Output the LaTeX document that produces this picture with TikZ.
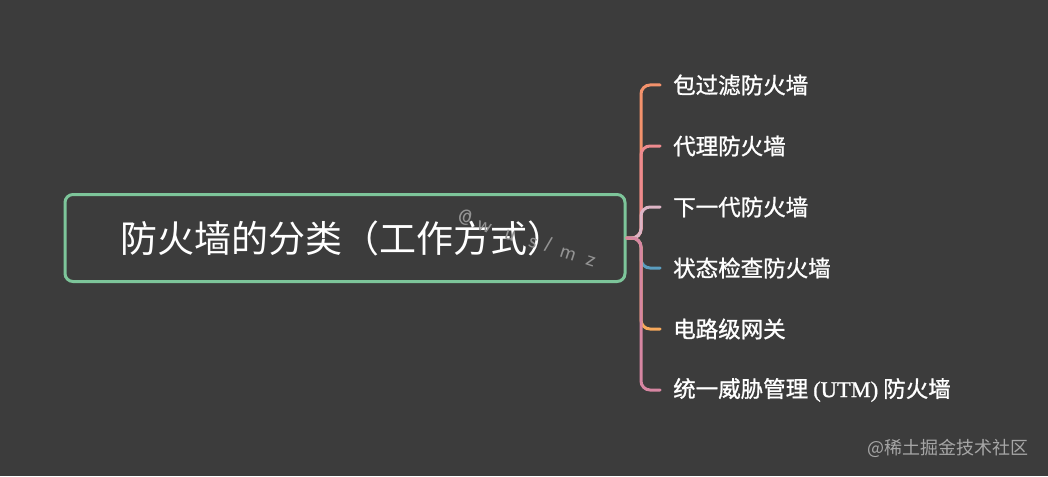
\documentclass[tikz,border=0pt]{standalone}
\usepackage{fontspec}
\newfontfamily\cjk{Noto Sans CJK SC}
\newfontfamily\cjkmid[FakeBold=1.1]{Noto Sans CJK SC}
\newfontfamily\utmfont[FakeBold=1.1]{Liberation Serif}
\definecolor{MapBg}{HTML}{3C3C3C}
\definecolor{MapGreen}{HTML}{7DC59A}
\definecolor{BrOne}{HTML}{F3926C}
\definecolor{BrTwo}{HTML}{EE8A8E}
\definecolor{BrThree}{HTML}{DDB5C6}
\definecolor{BrFour}{HTML}{5B9EC0}
\definecolor{BrFive}{HTML}{F7A95C}
\definecolor{BrSix}{HTML}{D786A2}
\usetikzlibrary{positioning}
\tikzset{
  leaf/.style={anchor=west,inner xsep=13pt,inner ysep=2pt,text=white,font=\cjkmid\fontsize{22.5}{26}\selectfont},
  branch/.style={line width=3pt,rounded corners=9pt,line cap=round}
}

\begin{document}
\begin{tikzpicture}[x=1pt,y=-1pt]
  \fill[MapBg] (0,0) rectangle (1048,476);
  \useasboundingbox (0,0) rectangle (1048,476);
  \node[draw=MapGreen,line width=3pt,rounded corners=8pt,minimum width=560pt,minimum height=87pt,
        text=white,font=\cjk\fontsize{37}{42}\selectfont] (root) at (345,238) {\hspace*{-6pt}防火墙的分类（工作方式）};
  \node[text=gray!85,rotate=-18,font=\sffamily\fontsize{22}{26}\selectfont] (mark) at (527,238) {@\,\,w\,\,\,\,u\,\,\,\,s\,\,\textit{l}\,\,\,m\,\,\,z};
  \coordinate (hub) at (641,238);
  \node[leaf] (pkt) at (660,85) {包过滤防火墙};
  \node[leaf] (proxy) at (660,146) {代理防火墙};
  \node[leaf] (ngfw) at (660,207) {下一代防火墙};
  \node[leaf] (state) at (660,268) {状态检查防火墙};
  \node[leaf] (circ) at (660,329) {电路级网关};
  \node[leaf] (utm) at (660,390) {统一威胁管理 {\utmfont(UTM)} 防火墙};
  % branches, longest first
  \draw[branch,BrOne] (root.east) -- (hub) |- (pkt.west);
  \draw[branch,BrTwo] (root.east) -- (hub) |- (proxy.west);
  \draw[branch,BrThree] (root.east) -- (hub) |- (ngfw.west);
  \draw[branch,BrFour] (root.east) -- (hub) |- (state.west);
  \draw[branch,BrFive] (root.east) -- (hub) |- (circ.west);
  \draw[branch,BrSix] (root.east) -- (hub) |- (utm.west);
  \node[text=gray!70,anchor=east,font=\cjk\fontsize{18}{21}\selectfont] (site) at (1032,448) {@稀土掘金技术社区};
\end{tikzpicture}
\end{document}
